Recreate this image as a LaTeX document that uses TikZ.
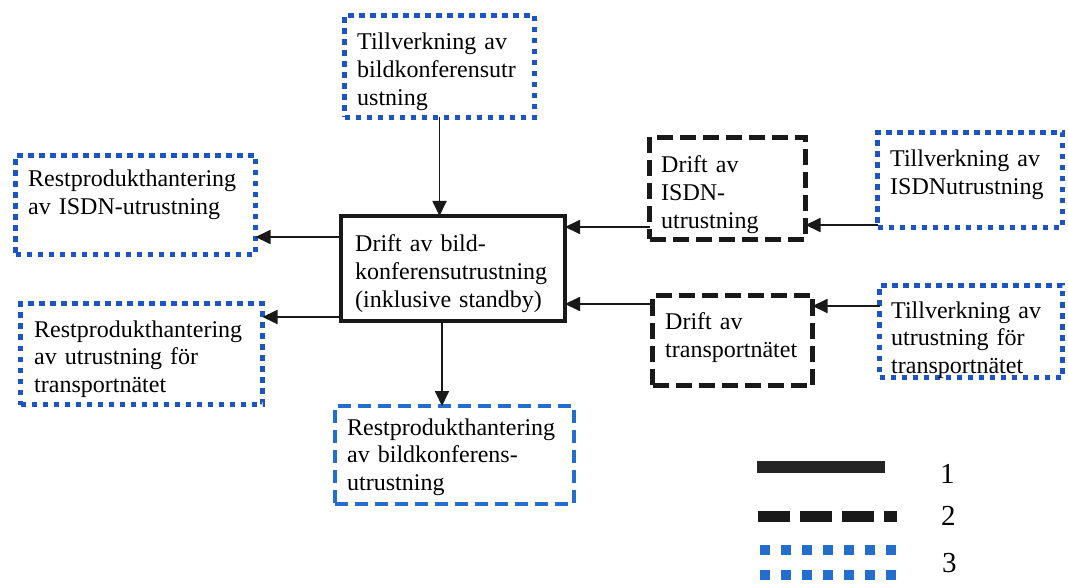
\documentclass[tikz,border=0pt]{standalone}
\usepackage{fontspec}
\setmainfont{Liberation Serif}
\usetikzlibrary{arrows.meta}

\definecolor{dotblue}{RGB}{28,84,196}
\definecolor{dashblue}{RGB}{35,110,205}
\definecolor{inkblack}{RGB}{25,25,25}

\tikzset{
  boxbase/.style={rectangle, inner sep=0pt, outer sep=0pt},
  solidbox/.style={boxbase, draw=inkblack, line width=4pt},
  blackdash/.style={boxbase, draw=inkblack, line width=5pt, dash pattern=on 16pt off 7pt},
  bluedot/.style={boxbase, draw=dotblue, line width=5.5pt, dash pattern=on 5.5pt off 5.5pt},
  bluedash/.style={boxbase, draw=dashblue, line width=4.5pt, dash pattern=on 13pt off 7pt},
  txt/.style={anchor=base west, inner sep=0pt, text width=250pt, align=left,
    font=\fontsize{24}{27.8}\selectfont},
  arr/.style={draw=inkblack, line width=1.8pt, -{Triangle[length=15pt,width=14pt]}},
  legnum/.style={anchor=base west, inner sep=0pt, font=\fontsize{29}{32}\selectfont}
}

\begin{document}
\begin{tikzpicture}[x=1pt, y=-1pt]
  \useasboundingbox[fill=white] (0,0) rectangle (1068,585);

  % boxes
  \node[bluedot,   minimum width=190pt, minimum height=102pt] (top) at (439.5,66.5) {};
  \node[solidbox,  minimum width=224pt, minimum height=105pt] (cen) at (453,268.5) {};
  \node[bluedot,   minimum width=240pt, minimum height=99pt]  (lt)  at (135.5,205) {};
  \node[bluedot,   minimum width=242pt, minimum height=101pt] (lb)  at (141.5,354) {};
  \node[bluedash,  minimum width=239pt, minimum height=98pt]  (bot) at (454.5,455) {};
  \node[blackdash, minimum width=156pt, minimum height=102pt] (dI)  at (727.5,188.5) {};
  \node[blackdash, minimum width=160pt, minimum height=90pt]  (dT)  at (732.5,340.5) {};
  \node[bluedot,   minimum width=185pt, minimum height=95pt]  (tI)  at (970,180) {};
  \node[bluedot,   minimum width=183pt, minimum height=92pt]  (tT)  at (971,331.5) {};

  % box texts
  \node[txt] (topT) at (357,50)  {Tillverkning av\\bildkonferensutr\\ustning};
  \node[txt] (cenT) at (355,252) {Drift av bild-\\konferensutrustning\\(inklusive standby)};
  \node[txt] (ltT)  at (28,187)  {Restprodukthantering\\av ISDN-utrustning};
  \node[txt] (lbT)  at (34,337)  {Restprodukthantering\\av utrustning för\\transportnätet};
  \node[txt] (botT) at (347,435) {Restprodukthantering\\av bildkonferens-\\utrustning};
  \node[txt] (dIT)  at (661,173) {Drift av\\ISDN-\\utrustning};
  \node[txt] (dTT)  at (665,330) {Drift av\\transportnätet};
  \node[txt] (tIT)  at (890,167) {Tillverkning av\\ISDNutrustning};
  \node[txt] (tTT)  at (891,318) {Tillverkning av\\utrustning för\\transportnätet};

  % connectors
  \draw[arr] (top.south) -- (top.south |- cen.north);
  \draw[arr] (cen.south -| 442,0) -- (bot.north -| 442,0);
  \draw[arr] (cen.west |- 0,237) -- (lt.east |- 0,237);
  \draw[arr] (cen.west |- 0,317) -- (lb.east |- 0,317);
  \draw[arr] (dI.west |- 0,227) -- (cen.east |- 0,227);
  \draw[arr] (dT.west |- 0,304) -- (cen.east |- 0,304);
  \draw[arr] (tI.west |- 0,225) -- (dI.east |- 0,225);
  \draw[arr] (tT.west |- 0,306) -- (dT.east |- 0,306);

  % legend
  \draw[inkblack!95, line width=12pt] (757,467) -- (885,467);
  \draw[inkblack, line width=11pt, dash pattern=on 32pt off 10pt] (758,516) -- (897,516);
  \draw[dashblue, line width=10pt, dash pattern=on 10pt off 11pt] (760,550) -- (897,550);
  \draw[dashblue, line width=10pt, dash pattern=on 10pt off 11pt] (760,575) -- (897,575);
  \node[legnum] (l1) at (940,483) {1};
  \node[legnum] (l2) at (941,525) {2};
  \node[legnum] (l3) at (942,572) {3};
\end{tikzpicture}
\end{document}
